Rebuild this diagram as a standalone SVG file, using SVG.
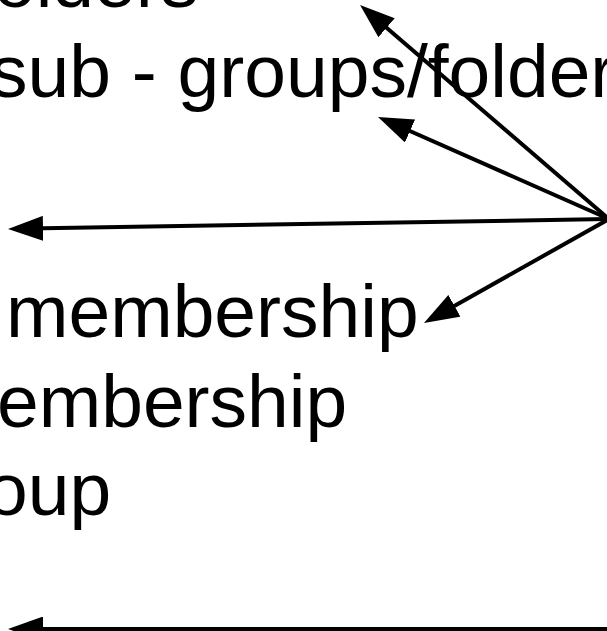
<svg xmlns="http://www.w3.org/2000/svg" width="607" height="631" viewBox="0 0 607 631">
  <style>
    .label { font-family: "Liberation Sans", Arial, Helvetica, sans-serif; font-size: 75px; fill: #000; }
    .edge { stroke: #000; stroke-width: 4; fill: none; marker-end: url(#head); }
  </style>
  <defs>
    <!-- filled triangular arrowhead; tip sits 20px past the line end -->
    <marker id="head" viewBox="0 0 35 25" refX="15" refY="12.5" markerWidth="35" markerHeight="25" markerUnits="userSpaceOnUse" orient="auto">
      <path d="M0,0 L35,12.5 L0,25 z" fill="#000"/>
    </marker>
  </defs>
  <rect width="607" height="631" fill="#fff"/>

  <g id="folders">
    <text class="label" x="-6" y="7">olders</text>
  </g>
  <g id="subgroups">
    <text class="label" x="-10" y="97">sub - groups/folder</text>
  </g>
  <g id="membership-1">
    <text class="label" x="6" y="337">membership</text>
  </g>
  <g id="membership-2">
    <text class="label" x="-3" y="427">embership</text>
  </g>
  <g id="group">
    <text class="label" x="-14" y="515">oup</text>
  </g>

  <g id="connectors">
    <line class="edge" x1="609" y1="219" x2="375.2" y2="18"/>
    <line class="edge" x1="609" y1="219" x2="396.3" y2="125"/>
    <line class="edge" x1="609" y1="219" x2="28" y2="228.6"/>
    <line class="edge" x1="609" y1="219" x2="441.4" y2="313.2"/>
    <line class="edge" x1="620" y1="629" x2="28" y2="629"/>
  </g>
</svg>
